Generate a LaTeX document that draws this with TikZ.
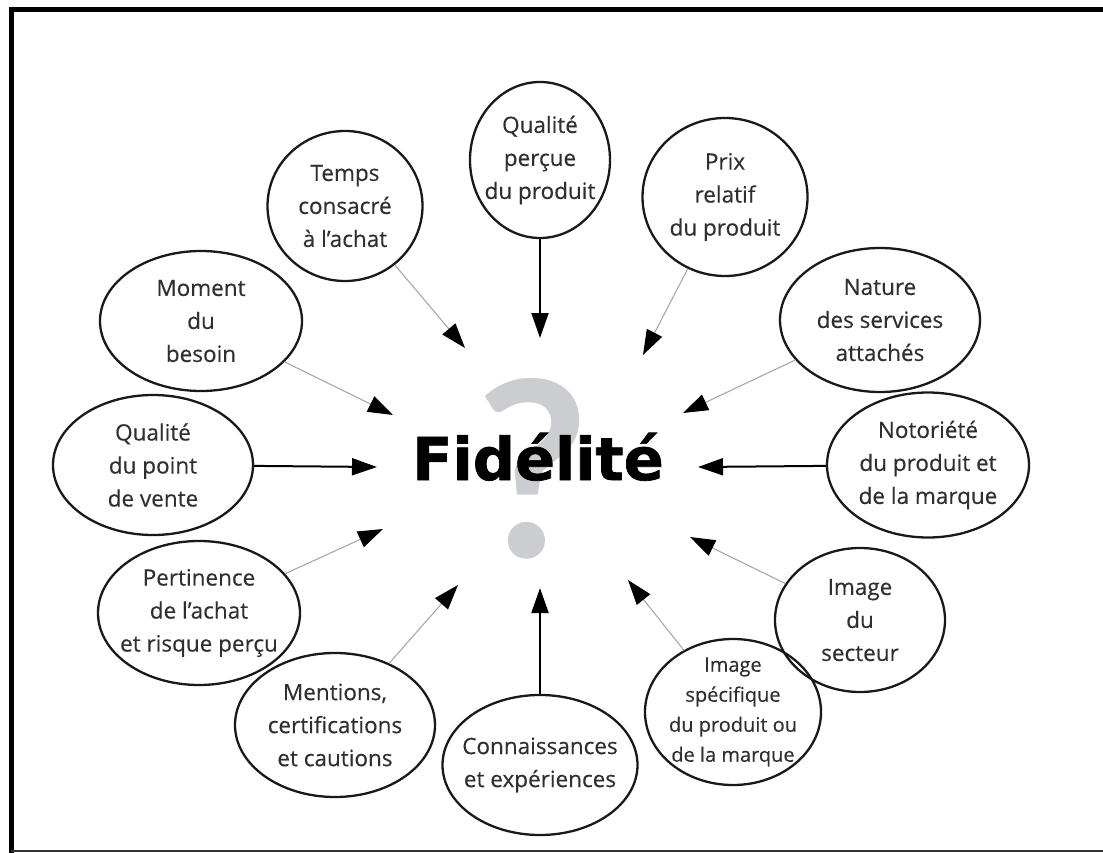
\documentclass[tikz,border=0pt]{standalone}
\usepackage{fontspec}
\setmainfont{Open Sans}
\newfontfamily\labelfont{Open Sans}[FakeBold=0.35]
\newfontfamily\titlefont{DejaVu Sans}[BoldFeatures={FakeBold=1.2}]
\newfontfamily\qfont{Lato}
\usetikzlibrary{arrows.meta,shapes.geometric}

\definecolor{inkgray}{HTML}{2F2F33}
\definecolor{qmark}{HTML}{CBCDD1}
\definecolor{thinline}{HTML}{A8A8A8}

\tikzset{
  factor/.style={ellipse, draw=black!90, line width=2.3pt,
    inner xsep=-30pt, inner ysep=-25pt,
    align=center, text=inkgray, font=\labelfont\fontsize{22.5}{33}\selectfont},
  heavyarrow/.style={line width=2pt, black,
    -{Triangle[length=25pt,width=17pt,color=black]}},
  lightarrow/.style={line width=1.1pt, thinline,
    -{Triangle[length=25pt,width=17pt,color=black]}},
}

\begin{document}
\begin{tikzpicture}[x=1pt,y=-1pt]
\useasboundingbox (0,0) rectangle (1103,853);

% frame
\draw[line width=5pt] (11,853) -- (11,10) -- (1103,10);
\draw[line width=2pt, black!80] (11,851) -- (1103,851);

% central label with the question mark behind it
\node[anchor=base, text=qmark, font=\qfont\bfseries\fontsize{245}{245}\selectfont]
  (qm) at (533,557) {?};
\node[anchor=base, font=\titlefont\bfseries\fontsize{59}{59}\selectfont]
  (fid) at (538,480) {Fidélité};

% factors
\node[factor, minimum width=140pt, minimum height=156pt] (qual) at (540,160)
  {Qualité\\perçue\\du produit};
\node[factor, minimum width=165pt, minimum height=158pt] (prix) at (725,197)
  {Prix\\relatif\\du produit};
\node[factor, minimum width=155pt, minimum height=150pt] (temps) at (345,206)
  {Temps\\consacré\\à l’achat};
\node[factor, minimum width=202pt, minimum height=140pt] (moment) at (201,321)
  {Moment\\du\\besoin};
\node[factor, minimum width=200pt, minimum height=140pt] (pv) at (153,465)
  {Qualité\\du point\\de vente};
\node[factor, minimum width=202pt, minimum height=144pt] (pert) at (199,613)
  {Pertinence\\de l’achat\\et risque perçu};
\node[factor, minimum width=200pt, minimum height=144pt] (ment) at (335,725)
  {Mentions,\\certifications\\et cautions};
\node[factor, minimum width=195pt, minimum height=140pt] (conn) at (540,765)
  {Connaissances\\et expériences};
\node[factor, minimum width=176pt, minimum height=146pt,
  font=\labelfont\fontsize{20}{30}\selectfont] (spec) at (733,712)
  {Image\\spécifique\\du produit ou\\de la marque};
\node[factor, minimum width=170pt, minimum height=144pt] (sect) at (860,620)
  {Image\\du\\secteur};
\node[factor, minimum width=202pt, minimum height=145pt] (noto) at (928,465)
  {Notoriété\\du produit et\\de la marque};
\node[factor, minimum width=200pt, minimum height=144pt] (nat) at (880,320)
  {Nature\\des services\\attachés};

% arrow tips around the centre
\coordinate (tqual) at (540,338);
\coordinate (tprix) at (643,355);
\coordinate (ttemps) at (465,348);
\coordinate (tmoment) at (393,415);
\coordinate (tpv) at (377,467);
\coordinate (tpert) at (383,529);
\coordinate (tment) at (458,585);
\coordinate (tconn) at (540,588);
\coordinate (tspec) at (628,580);
\coordinate (tsect) at (690,537);
\coordinate (tnoto) at (698,467);
\coordinate (tnat) at (683,413);

\draw[heavyarrow] (qual) -- (tqual);
\draw[heavyarrow] (pv) -- (tpv);
\draw[heavyarrow] (noto) -- (tnoto);
\draw[heavyarrow] (conn) -- (tconn);
\draw[lightarrow] (prix) -- (tprix);
\draw[lightarrow] (temps) -- (ttemps);
\draw[lightarrow] (moment) -- (tmoment);
\draw[lightarrow] (pert) -- (tpert);
\draw[lightarrow] (ment) -- (tment);
\draw[lightarrow] (spec) -- (tspec);
\draw[lightarrow] (sect) -- (tsect);
\draw[lightarrow] (nat) -- (tnat);
\end{tikzpicture}
\end{document}
